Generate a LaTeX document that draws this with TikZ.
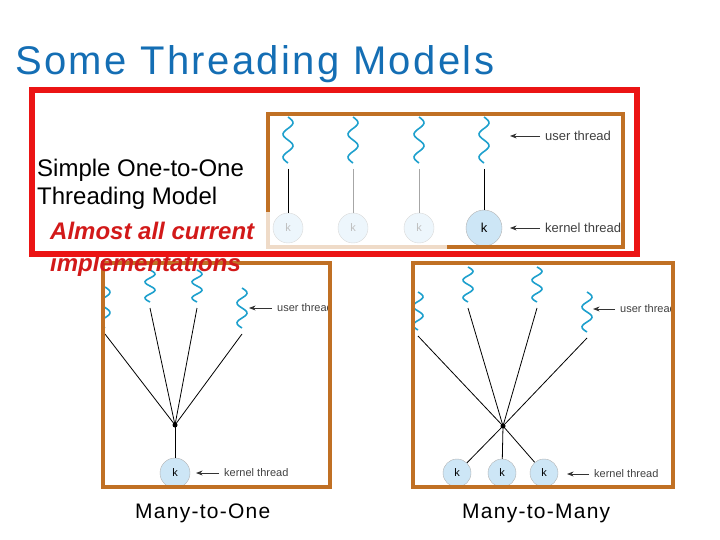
\documentclass[tikz,border=0pt]{standalone}
\usepackage{fontspec}
\setmainfont{Liberation Sans}
\newfontfamily\spacedfont[LetterSpace=6]{Liberation Sans}
\usetikzlibrary{arrows.meta}

\definecolor{titleblue}{RGB}{20,110,180}
\definecolor{boxorange}{RGB}{192,112,36}
\definecolor{slidered}{RGB}{235,20,20}
\definecolor{notered}{RGB}{210,25,25}
\definecolor{threadblue}{RGB}{30,160,205}
\definecolor{kfill}{RGB}{205,230,246}

% wavy user thread: name, x, top, bottom
\newcommand{\uthread}[4]{%
  \draw[wave] plot[smooth, domain=#3:#4, samples=31, variable=\t]
    ({#2+5*sin(720/(#4-#3)*(\t-#3))}, {\t});
  \coordinate (#1) at (#2,#4+6);}

\begin{document}
\begin{tikzpicture}[
  x=1pt, y=-1pt, >=Stealth,
  frame/.style={draw=boxorange, line width=4pt},
  wave/.style={threadblue, line width=1.6pt},
  kern/.style={circle, draw=gray!60, fill=kfill, minimum size=30pt, inner sep=0pt,
               font=\fontsize{11}{11}\selectfont},
  faded/.style={kern, fill=kfill!35, draw=gray!30, text=gray!50},
  hub/.style={circle, fill=black, minimum size=5pt, inner sep=0pt},
  conn/.style={black, line width=0.8pt},
  lbl/.style={anchor=west, inner sep=0pt, text=black!75, font=\fontsize{11}{12}\selectfont},
  ptr/.style={->, black!80, line width=0.8pt, shorten <=5pt},
  body/.style={anchor=base west, inner sep=0pt, font=\fontsize{24}{28}\selectfont},
  note/.style={body, text=notered, font=\fontsize{24}{28}\selectfont\bfseries\itshape},
]
  \useasboundingbox (0,0) rectangle (720,540);

  \node[anchor=base west, inner sep=0pt, text=titleblue,
        font=\spacedfont\fontsize{40}{44}\selectfont] (title) at (15,75) {Some Threading Models};

  % one-to-one
  \begin{scope}
    \clip (270,116) rectangle (621,245);
    \foreach \i/\x in {1/288, 2/353, 3/419, 4/484} {
      \uthread{a\i}{\x}{117}{163}
    }
    \node[faded] (ka1) at (288,228) {k};
    \node[faded] (ka2) at (353,228) {k};
    \node[faded] (ka3) at (419,228) {k};
    \node[kern, minimum size=36pt, font=\fontsize{13}{13}\selectfont] (ka4) at (484,228) {k};
    \draw[conn] (a1) -- (ka1.north);
    \draw[conn, gray!70] (a2) -- (ka2.north);
    \draw[conn, gray!70] (a3) -- (ka3.north);
    \draw[conn] (a4) -- (ka4.north);
    \node[lbl, font=\fontsize{13}{14}\selectfont] (usera) at (545,136) {user thread};
    \node[lbl, font=\fontsize{13}{14}\selectfont] (kerna) at (545,228) {kernel thread};
    \coordinate (pua) at (510,136);
    \coordinate (pka) at (510,228);
    \draw[ptr] (usera.west) -- (pua);
    \draw[ptr] (kerna.west) -- (pka);
  \end{scope}
  \draw[frame] (268,114) rectangle (623,247);
  \draw[boxorange!25, line width=4pt] (268,212) -- (268,247) -- (447,247);

  % many-to-one
  \begin{scope}
    \clip (105,265) rectangle (328,485);
    \uthread{b1}{105}{287}{328}
    \uthread{b2}{150}{270}{302}
    \uthread{b3}{197}{270}{302}
    \uthread{b4}{242}{288}{328}
    \node[hub] (hb) at (175,425) {};
    \node[kern] (kb) at (175,473) {k};
    \foreach \i in {1,...,4} {
      \draw[conn] (b\i) -- (hb.center);
    }
    \draw[conn] (hb.center) -- (kb.north);
    \node[lbl] (userb) at (277,308) {user thread};
    \node[lbl] (kernb) at (224,473) {kernel thread};
    \coordinate (pub) at (249,308);
    \coordinate (pkb) at (196,473);
    \draw[ptr] (userb.west) -- (pub);
    \draw[ptr] (kernb.west) -- (pkb);
  \end{scope}
  \draw[frame] (103,263) rectangle (330,487);

  % many-to-many
  \begin{scope}
    \clip (415,265) rectangle (671,485);
    \uthread{c1}{418}{292}{330}
    \uthread{c2}{468}{267}{302}
    \uthread{c3}{537}{267}{302}
    \uthread{c4}{587}{292}{332}
    \node[hub] (hc) at (503,426) {};
    \node[kern, minimum size=28pt] (kc1) at (457,473) {k};
    \node[kern, minimum size=28pt] (kc2) at (502,473) {k};
    \node[kern, minimum size=28pt] (kc3) at (544,473) {k};
    \foreach \i in {1,...,4} {
      \draw[conn] (c\i) -- (hc.center);
    }
    \foreach \i in {1,...,3} {
      \draw[conn] (hc.center) -- (kc\i);
    }
    \node[lbl] (userc) at (620,309) {user thread};
    \node[lbl] (kernc) at (594,474) {kernel thread};
    \coordinate (puc) at (593,309);
    \coordinate (pkc) at (567,474);
    \draw[ptr] (userc.west) -- (puc);
    \draw[ptr] (kernc.west) -- (pkc);
  \end{scope}
  \draw[frame] (413,263) rectangle (673,487);

  \node[anchor=base west, inner sep=0pt, font=\spacedfont\fontsize{21}{24}\selectfont] (m2one) at (135,518) {Many-to-One};
  \node[anchor=base west, inner sep=0pt, font=\spacedfont\fontsize{21}{24}\selectfont] (m2many) at (462,518) {Many-to-Many};

  % slide text
  \node[body] (simple) at (37,177) {Simple One-to-One};
  \node[body] (tmodel) at (37,205) {Threading Model};
  \node[note] (almost) at (50,240) {Almost all current};
  \node[note] (impl) at (50,271) {implementations};

  % red highlight
  \draw[slidered, line width=6pt] (32,90) rectangle (637,254);
\end{tikzpicture}
\end{document}
